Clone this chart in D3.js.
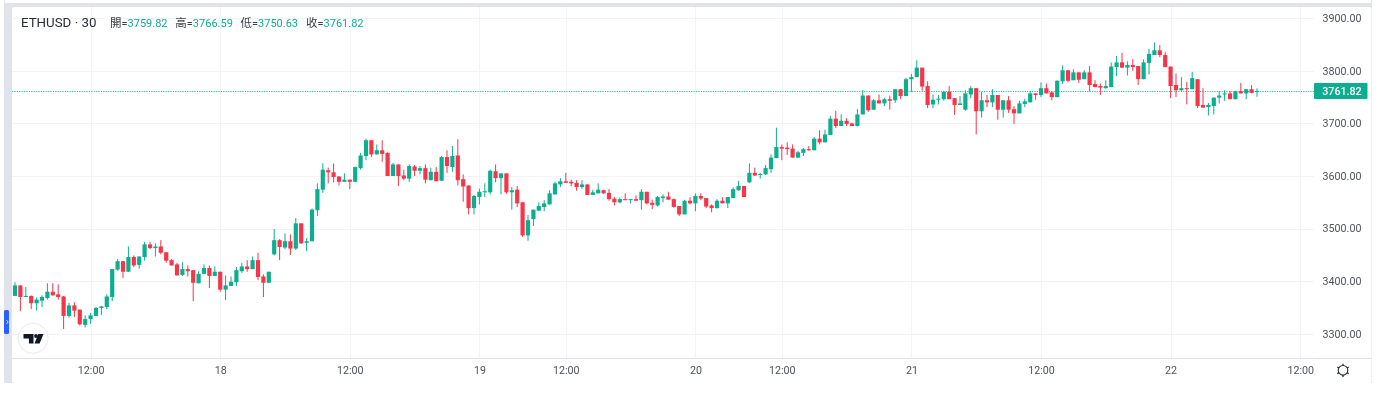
<!DOCTYPE html>
<html>
<head>
<meta charset="utf-8">
<script src="https://cdn.jsdelivr.net/npm/d3@7"></script>
<style>
html,body{margin:0;padding:0;background:#fff;overflow:hidden}
svg{display:block;filter:blur(.35px)}
text{font-family:Roboto,"Noto Sans CJK TC",sans-serif}
</style>
</head>
<body>
<svg id="c" width="1385" height="396"></svg>
<script>
const opens=[3372,3392,3370,3372,3358,3363,3368,3380,3375,3371,
3334,3354,3346,3317,3328,3334,3349,3351,3370,3422,
3438,3418,3446,3431,3446,3470,3463,3466,3455,3440,
3432,3412,3423,3421,3396,3414,3425,3410,3418,3384,
3391,3398,3419,3428,3423,3440,3409,3397,3451,3478,
3464,3476,3462,3510,3473,3476,3535,3574,3611,3607,
3599,3589,3593,3589,3615,3638,3668,3641,3649,3644,
3600,3622,3601,3595,3618,3610,3615,3592,3608,3591,
3636,3617,3639,3594,3582,3539,3560,3569,3569,3609,
3596,3605,3569,3574,3550,3487,3518,3534,3541,3546,
3565,3584,3590,3589,3587,3579,3584,3564,3567,3573,
3568,3557,3550,3556,3555,3556,3554,3570,3549,3544,
3558,3561,3556,3543,3527,3553,3548,3562,3558,3544,
3539,3553,3548,3558,3573,3581,3588,3606,3602,3603,
3613,3634,3655,3654,3652,3635,3644,3651,3649,3671,
3664,3678,3709,3695,3705,3700,3695,3717,3753,3726,
3744,3738,3746,3744,3765,3752,3784,3788,3806,3771,
3736,3745,3746,3760,3748,3735,3726,3755,3767,3723,
3744,3740,3754,3726,3744,3727,3719,3737,3740,3757,
3754,3767,3759,3750,3780,3801,3782,3797,3784,3797,
3775,3771,3767,3769,3807,3816,3806,3811,3809,3784,
3815,3830,3839,3830,3808,3773,3763,3767,3765,3784,
3735,3731,3733,3749,3755,3757,3746,3761,3757,3765,3759.82];
const closes=[3392,3370,3372,3358,3365,3370,3380,3373,3370,3334,
3354,3344,3318,3328,3335,3349,3352,3371,3423,3438,
3418,3446,3430,3447,3470,3463,3466,3454,3439,3430,
3411,3423,3419,3397,3414,3425,3410,3418,3384,3392,
3399,3421,3428,3423,3440,3408,3397,3418,3478,3465,
3476,3462,3510,3472,3476,3536,3575,3612,3607,3598,
3589,3593,3589,3617,3639,3668,3641,3649,3642,3600,
3622,3600,3595,3619,3610,3615,3593,3608,3590,3636,
3619,3638,3592,3580,3539,3562,3570,3571,3610,3596,
3605,3569,3573,3548,3487,3516,3536,3543,3548,3567,
3586,3590,3587,3586,3579,3584,3564,3569,3574,3567,
3556,3550,3556,3554,3556,3553,3570,3548,3545,3560,
3561,3555,3541,3527,3553,3548,3562,3557,3542,3539,
3553,3548,3560,3575,3581,3560,3606,3601,3604,3615,
3635,3655,3652,3651,3635,3645,3651,3649,3671,3664,
3679,3709,3695,3705,3699,3695,3717,3753,3725,3744,
3738,3746,3743,3765,3752,3784,3788,3806,3770,3735,
3745,3747,3760,3746,3735,3738,3757,3767,3723,3744,
3740,3754,3726,3744,3726,3719,3738,3742,3757,3754,
3767,3757,3750,3781,3801,3781,3797,3783,3797,3773,
3769,3768,3771,3808,3816,3806,3811,3807,3784,3816,
3832,3839,3830,3807,3771,3763,3767,3765,3786,3733,
3730,3735,3749,3753,3757,3746,3761,3757,3765,3758,3761.82];
const highs=[3398,3392,3389,3373,3369,3373,3396,3396,3394,3372,
3359,3360,3346,3335,3340,3351,3353,3375,3423,3442,
3438,3466,3449,3447,3475,3475,3472,3478,3455,3442,
3435,3436,3430,3421,3419,3432,3430,3428,3418,3411,
3409,3427,3435,3440,3447,3454,3413,3418,3499,3480,
3491,3489,3520,3510,3482,3538,3586,3624,3616,3624,
3600,3605,3593,3618,3644,3671,3668,3660,3668,3645,
3625,3622,3612,3622,3621,3619,3622,3616,3617,3638,
3649,3657,3670,3603,3582,3564,3576,3586,3612,3622,
3605,3605,3579,3581,3550,3526,3536,3550,3554,3573,
3589,3596,3606,3593,3592,3592,3584,3574,3586,3574,
3575,3560,3559,3567,3556,3563,3575,3570,3555,3562,
3565,3570,3557,3543,3555,3560,3567,3567,3558,3546,
3556,3560,3560,3578,3591,3581,3624,3616,3606,3621,
3641,3692,3660,3664,3660,3648,3653,3657,3674,3687,
3688,3714,3724,3717,3710,3701,3727,3763,3753,3746,
3755,3749,3753,3765,3765,3787,3794,3820,3806,3780,
3755,3754,3762,3771,3748,3752,3763,3771,3767,3760,
3754,3765,3754,3744,3752,3733,3743,3747,3762,3757,
3778,3776,3761,3782,3810,3801,3803,3797,3801,3809,
3782,3776,3782,3816,3828,3834,3818,3822,3809,3822,
3842,3854,3849,3836,3808,3795,3788,3779,3798,3784,
3767,3739,3749,3761,3763,3762,3762,3777,3765,3773,3766.59];
const lows=[3372,3343,3370,3347,3344,3351,3365,3373,3365,3309,
3331,3332,3316,3312,3319,3334,3336,3347,3362,3420,
3406,3418,3427,3424,3439,3461,3447,3451,3435,3430,
3411,3410,3409,3362,3396,3414,3387,3410,3380,3364,
3391,3391,3416,3418,3423,3402,3370,3397,3449,3440,
3461,3450,3459,3471,3457,3476,3524,3568,3586,3588,
3582,3589,3575,3589,3612,3630,3636,3641,3627,3600,
3600,3581,3592,3589,3600,3603,3586,3592,3590,3591,
3606,3608,3582,3551,3527,3527,3546,3560,3565,3588,
3565,3566,3536,3541,3484,3477,3505,3534,3533,3546,
3565,3579,3587,3581,3572,3575,3564,3564,3567,3566,
3553,3544,3548,3554,3548,3553,3536,3546,3537,3542,
3550,3555,3540,3524,3527,3546,3533,3554,3539,3531,
3538,3548,3539,3558,3572,3560,3587,3600,3595,3602,
3606,3634,3630,3640,3635,3634,3638,3648,3649,3660,
3664,3678,3691,3695,3695,3695,3694,3717,3722,3726,
3738,3733,3726,3739,3746,3752,3760,3788,3762,3729,
3729,3736,3743,3746,3716,3735,3724,3748,3679,3711,
3731,3731,3707,3711,3720,3699,3719,3731,3740,3745,
3750,3757,3744,3750,3775,3778,3782,3777,3784,3761,
3769,3754,3766,3769,3790,3805,3791,3800,3773,3784,
3793,3830,3826,3807,3748,3750,3762,3736,3765,3729,
3730,3715,3717,3738,3743,3746,3746,3757,3746,3757,3750.63];

const priceTicks=[3300,3400,3500,3600,3700,3800,3900];
const timeTickIndex=[14,38,62,86,102,126,142,166,190,214,238];
const timeTickLabels=["12:00","18","12:00","19","12:00","20","12:00","21","12:00","22","12:00"];
const symbolLabel="ETHUSD · 30";
const ohlcNames=["開","高","低","收"];
const ohlcLast=["3759.82","3766.59","3750.63","3761.82"];
const lastPrice=3761.82;

const UP="#0cae8f", DOWN="#f5364a", BAND="#e0e3eb", GRID="#f2f3f5", AXT="#50535e";
const svg=d3.select("#c");
const L=12,T=7,R=1314,B=358;
const x=d3.scaleLinear().domain([0,230]).range([15,1257]);
const y=d3.scaleLinear().domain([3300,3900]).range([333.8,18.2]);

// frame
svg.append("rect").attr("x",4).attr("y",3).attr("width",1368).attr("height",380).attr("fill",BAND);
svg.append("rect").attr("x",12).attr("y",7).attr("width",1359.5).attr("height",376).attr("rx",2).attr("fill","#fff");
svg.append("rect").attr("x",4).attr("y",0).attr("width",1).attr("height",3).attr("fill","#dfe1e8");
svg.append("rect").attr("x",1371).attr("y",0).attr("width",1).attr("height",3).attr("fill","#dfe1e8");
svg.append("rect").attr("x",12).attr("y",383).attr("width",1361).attr("height",13).attr("fill","#fff");

// grid
svg.append("g").selectAll("line").data(priceTicks).join("line")
  .attr("x1",L).attr("x2",R).attr("y1",d=>Math.round(y(d))+.5).attr("y2",d=>Math.round(y(d))+.5)
  .attr("stroke",GRID);
svg.append("g").selectAll("line").data(timeTickIndex).join("line")
  .attr("x1",d=>Math.round(x(d))+.5).attr("x2",d=>Math.round(x(d))+.5).attr("y1",T).attr("y2",B)
  .attr("stroke",GRID);

// axis lines
svg.append("line").attr("x1",L).attr("x2",R).attr("y1",B+.5).attr("y2",B+.5).attr("stroke",BAND);
svg.append("line").attr("x1",R+1).attr("x2",1372).attr("y1",B+.5).attr("y2",B+.5).attr("stroke",BAND);

// last price dotted line
svg.append("line").attr("x1",L).attr("x2",R).attr("y1",Math.round(y(lastPrice))+.5).attr("y2",Math.round(y(lastPrice))+.5)
  .attr("stroke","#2fc0a4").attr("stroke-width",1).attr("stroke-dasharray","1.2 1.2");

// candles
const idx=d3.range(opens.length);
const g=svg.append("g");
g.selectAll("rect.w").data(idx).join("rect").attr("class","w")
  .attr("x",i=>x(i)-.5).attr("width",1)
  .attr("y",i=>y(highs[i])).attr("height",i=>y(lows[i])-y(highs[i]))
  .attr("fill",i=>closes[i]>=opens[i]?UP:DOWN);
g.selectAll("rect.b").data(idx).join("rect").attr("class","b")
  .attr("x",i=>x(i)-2.1).attr("width",4.2)
  .attr("y",i=>y(Math.max(opens[i],closes[i])))
  .attr("height",i=>Math.max(1,Math.abs(y(opens[i])-y(closes[i]))))
  .attr("fill",i=>closes[i]>=opens[i]?UP:DOWN);

// price axis
svg.append("g").selectAll("text").data(priceTicks).join("text")
  .attr("x",1342).attr("y",d=>y(d)+.2).attr("text-anchor","middle").attr("dominant-baseline","central")
  .attr("font-size",10.7).attr("fill",AXT).text(d=>d3.format(".2f")(d));

// time axis
svg.append("g").selectAll("text").data(timeTickIndex).join("text")
  .attr("x",d=>x(d)+.5).attr("y",370).attr("text-anchor","middle").attr("dominant-baseline","central")
  .attr("font-size",10.7).attr("fill",AXT).text((d,i)=>timeTickLabels[i]);

// last price tag
svg.append("rect").attr("x",1314).attr("y",83).attr("width",53.5).attr("height",16).attr("rx",1).attr("fill",UP);
svg.append("text").attr("x",1342).attr("y",91.3).attr("text-anchor","middle").attr("dominant-baseline","central")
  .attr("font-size",10.7).attr("font-weight",500).attr("fill","#fff").text(d3.format(".2f")(lastPrice));

// header
svg.append("text").attr("x",21).attr("y",27).attr("font-size",13.3).attr("fill","#2a2e39").text(symbolLabel);
const hx=[110,175.3,240.5,306];
ohlcNames.forEach((n,i)=>{
  const t=svg.append("text").attr("x",hx[i]).attr("y",27).attr("font-size",11);
  t.append("tspan").attr("fill","#3b3e48").attr("font-size",11.5).text(n);
  t.append("tspan").attr("fill","#3b3e48").text("=");
  t.append("tspan").attr("fill",UP).text(ohlcLast[i]);
});

// collapse button
svg.append("rect").attr("x",4).attr("y",310).attr("width",5).attr("height",24).attr("rx",1.5).attr("fill","#2962ff");
svg.append("path").attr("d","M6.5 320 l1.6 2 l-1.6 2").attr("fill","none").attr("stroke","#fff").attr("stroke-width",.8);

// logo
svg.append("circle").attr("cx",33).attr("cy",338.3).attr("r",15).attr("fill","#fff").attr("stroke","#e9eaee").attr("stroke-width",1);
svg.append("path").attr("fill","#131722")
  .attr("d","M23.5 334h10v9.5h-4.6v-5h-5.4zM34.5 343.5l3.8-9.5h5.2l-3.9 9.5z");
svg.append("circle").attr("cx",36).attr("cy",336).attr("r",1.9).attr("fill","#131722");

// settings icon
const gear=svg.append("g").attr("transform","translate(1343,370.3)").attr("fill","none").attr("stroke","#2a2e39");
gear.append("circle").attr("r",4.8).attr("stroke-width",1.1);
d3.range(6).forEach(k=>{
  const a=k*Math.PI/3+Math.PI/6;
  gear.append("line").attr("x1",4.6*Math.cos(a)).attr("y1",4.6*Math.sin(a))
    .attr("x2",6.6*Math.cos(a)).attr("y2",6.6*Math.sin(a)).attr("stroke-width",1.3);
});
</script>
</body>
</html>
